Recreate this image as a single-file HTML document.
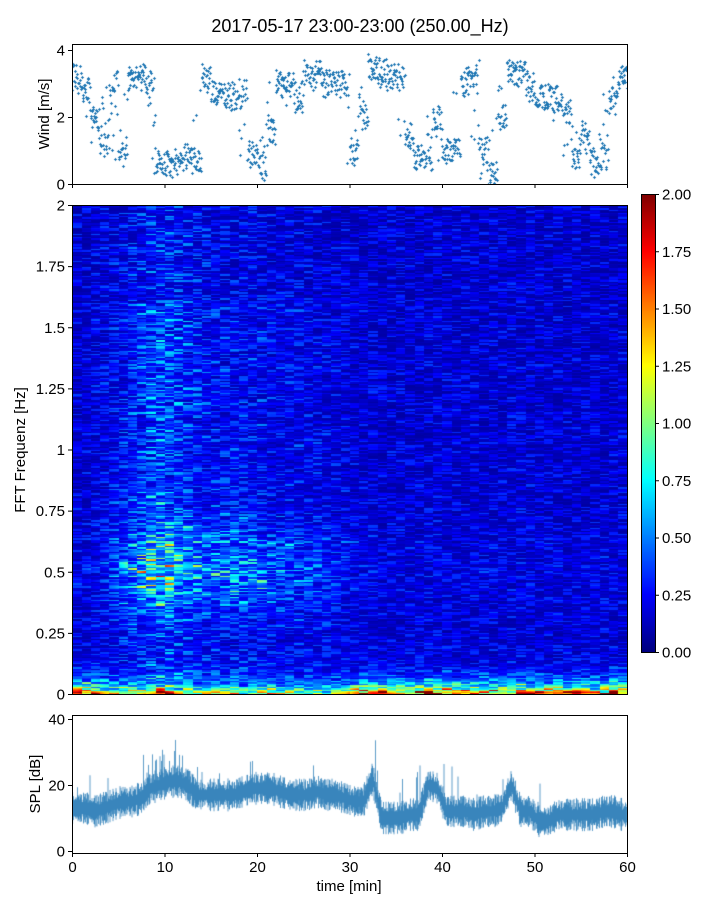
<!DOCTYPE html>
<html><head><meta charset="utf-8">
<style>
body{margin:0;background:#fff;}
#wrap{position:relative;width:720px;height:900px;overflow:hidden;font-family:"Liberation Sans","DejaVu Sans",sans-serif;}
canvas{position:absolute;}
svg{position:absolute;left:0;top:0;}
svg text{font-family:"Liberation Sans","DejaVu Sans",sans-serif;font-size:15px;fill:#000;}
</style></head>
<body>
<div id="wrap">
<canvas id="cw" width="555" height="140" style="left:72px;top:44px"></canvas>
<canvas id="cs" width="555" height="489" style="left:72px;top:205px"></canvas>
<canvas id="cb" width="14" height="458" style="left:641px;top:194px"></canvas>
<canvas id="cp" width="555" height="138" style="left:72px;top:715px"></canvas>
<svg id="ov" width="720" height="900">
<text x="360" y="32" text-anchor="middle" style="font-size:18px">2017-05-17 23:00-23:00 (250.00_Hz)</text>
<text transform="translate(49,114) rotate(-90)" text-anchor="middle">Wind [m/s]</text>
<text transform="translate(25,450) rotate(-90)" text-anchor="middle">FFT Frequenz [Hz]</text>
<text transform="translate(40,784) rotate(-90)" text-anchor="middle">SPL [dB]</text>
<text x="349" y="891" text-anchor="middle">time [min]</text>
</svg>
</div>
<script>
// ---- data ----
const minutes = Array.from({length:60},(_,i)=>i+0.5);
const windValues = [3.2,2.8,2.0,1.2,3.0,0.8,3.2,3.2,3.0,0.7,0.6,0.6,0.8,0.7,3.2,2.7,2.7,2.6,2.8,1.0,
  0.5,1.5,3.0,3.0,2.5,3.3,3.3,3.0,3.0,3.0,0.8,2.0,3.5,3.4,3.2,3.2,1.5,0.8,0.8,2.0,
  1.0,1.0,3.0,3.3,1.0,0.4,2.0,3.3,3.3,3.0,2.6,2.6,2.6,2.2,0.8,1.5,0.6,0.8,2.5,3.2];
const splValues = [13,13,12,13,14,15,15,16,19,20,21,21,20,17,17,17,17,17,18,19,
  19,19,18,17,17,17,18,17,17,16,15,15,22,10,10,10,11,11,20,19,
  12,12,12,11,12,12,13,20,12,12,9,9,11,11,11,11,11,12,12,11];
const bgLevel = [0.2,0.2,0.22,0.22,0.24,0.26,0.28,0.3,0.32,0.34,0.34,0.32,0.3,0.28,0.26,0.25,0.24,0.24,0.24,0.24,
  0.24,0.22,0.22,0.22,0.22,0.22,0.21,0.21,0.2,0.2,0.19,0.19,0.19,0.19,0.19,0.19,0.19,0.19,0.2,0.2,
  0.19,0.19,0.19,0.19,0.19,0.19,0.19,0.2,0.2,0.19,0.19,0.19,0.19,0.19,0.19,0.19,0.19,0.19,0.19,0.19];
const midBand = [0.05,0.05,0.1,0.15,0.2,0.3,0.45,0.6,0.75,0.75,0.65,0.55,0.45,0.4,0.35,0.4,0.4,0.45,0.4,0.4,
  0.35,0.3,0.3,0.35,0.3,0.25,0.25,0.25,0.2,0.15,0.1,0.1,0.1,0.05,0.05,0.05,0.05,0.05,0.05,0.05,
  0.05,0.05,0.05,0.05,0.05,0.05,0.05,0.05,0.05,0.05,0.05,0.05,0.05,0.05,0.05,0.05,0.05,0.05,0.05,0.05];
const lowBand = [1.6,1.9,1.6,1.2,1.0,1.2,1.0,1.0,1.3,1.6,1.2,1.0,1.0,0.9,0.9,1.0,1.0,1.0,0.9,1.2,
  1.3,1.0,0.9,0.9,0.8,0.8,0.8,0.8,0.9,1.0,1.5,1.8,2.0,2.0,1.8,1.6,1.6,1.8,2.0,2.0,
  2.0,1.8,1.8,1.6,1.5,1.6,1.8,2.0,2.0,2.0,1.8,1.6,1.5,1.6,1.8,1.6,1.5,1.8,2.0,1.8];
const windTicks = [0,2,4];
const freqTicks = [0,0.25,0.5,0.75,1,1.25,1.5,1.75,2];
const freqLabels = ["0","0.25","0.5","0.75","1","1.25","1.5","1.75","2"];
const cbTicks = [0,0.25,0.5,0.75,1,1.25,1.5,1.75,2];
const splTicks = [0,20,40];
const timeTicks = [0,10,20,30,40,50,60];

// ---- helpers ----
const X0=72,X1=627;
const xs = t => X0 + (t/60)*(X1-X0);
function interp(arr,t){let p=t-0.5;if(p<=0)return arr[0];if(p>=arr.length-1)return arr[arr.length-1];const i=Math.floor(p),f=p-i;return arr[i]*(1-f)+arr[i+1]*f;}
function hash(a,b){let h=(a*374761393+b*668265263)|0;h=(h^(h>>>13))*1274126177|0;h=h^(h>>>16);return (h>>>0)/4294967296;}
function jet(x){x=Math.max(0,Math.min(1,x));const c=v=>Math.round(255*Math.max(0,Math.min(1,1.5-Math.abs(v))));return [c(4*x-3),c(4*x-2),c(4*x-1)];}
const blue='#1f77b4';

// ---- wind ----
const yW = v => 184 - v*(134/4);
const cw=document.getElementById('cw').getContext('2d');
cw.strokeStyle=blue;cw.lineWidth=1;
for(let m=0;m<60;m++){
  for(let k=0;k<22;k++){
    const t=m+k/22;
    const next=windValues[Math.min(59,m+1)];
    const base = hash(m,k)<0.3 ? windValues[m]+(next-windValues[m])*hash(k,m) : windValues[m];
    const v=base+(hash(k*7,m*3)-0.5)*0.8;
    const px=Math.round(xs(t)-X0)+0.5, py=Math.round(yW(v)-44)+0.5;
    cw.beginPath();cw.moveTo(px-1.5,py);cw.lineTo(px+1.5,py);cw.moveTo(px,py-1.5);cw.lineTo(px,py+1.5);cw.stroke();
  }
}

// ---- spectrogram ----
const cs=document.getElementById('cs').getContext('2d');
const W=555,H=489;const img=cs.createImageData(W,H);
for(let y=0;y<H;y++){
  const f=2*(H-y)/H;
  const row=Math.floor(y/1.5);
  for(let x=0;x<W;x++){
    const t=x/W*60;
    const col=Math.floor(x/9.25);
    const n1=hash(row,col), n2=hash(col*3+1,row*5+2);
    let v=interp(bgLevel,t)*(0.35+1.5*n1*n1);
    v+=interp(midBand,t)*Math.exp(-Math.pow((f-0.5)/0.17,2))*(0.3+1.5*Math.pow(n2,3));
    if(f>0.6&&f<1.6) v+=interp(midBand,t)*0.35*n2*n2;
    v+=interp(lowBand,t)*Math.exp(-f/0.03)*(0.5+0.8*n1);
    v+=0.4*Math.exp(-f/0.08)*n2;
    const c=jet(v/2);const i=(y*W+x)*4;
    img.data[i]=c[0];img.data[i+1]=c[1];img.data[i+2]=c[2];img.data[i+3]=255;
  }
}
cs.putImageData(img,0,0);

// ---- colorbar ----
const cb=document.getElementById('cb').getContext('2d');
for(let y=0;y<458;y++){const c=jet(1-y/457);cb.fillStyle=`rgb(${c[0]},${c[1]},${c[2]})`;cb.fillRect(0,y,14,1);}

// ---- SPL ----
const yP = v => 851 - v*(132/40);
const cp=document.getElementById('cp').getContext('2d');
cp.strokeStyle=blue;cp.globalAlpha=0.9;cp.lineWidth=0.8;
for(let x=0;x<W;x+=0.5){
  const t=x/W*60;const m=interp(splValues,t);
  const k=Math.floor(x*2);
  let w=1.5+3.5*hash(k,11);
  let up=w, dn=w;
  if(t>8&&t<14&&hash(k,5)<0.2) up+=10*hash(k,9);
  if(hash(k,17)<0.02) up+=12*hash(k,19);
  cp.beginPath();cp.moveTo(x,yP(m+up)-715);cp.lineTo(x,yP(m-dn)-715);cp.stroke();
}

// ---- axes overlay ----
const ov=document.getElementById('ov');const NS='http://www.w3.org/2000/svg';
function el(tag,attrs,name,text){const e=document.createElementNS(NS,tag);for(const k in attrs)e.setAttribute(k,attrs[k]);
  
  
  if(text!==undefined)e.textContent=text;ov.appendChild(e);return e;}
function frame(x,y,w,h,name){el('rect',{x:x+0.5,y:y+0.5,width:w,height:h,fill:'none',stroke:'#000','stroke-width':1},name);}
frame(72,44,555,140,'wind-axes-frame');
frame(72,205,555,489,'spectrogram-axes-frame');
frame(641,194,14,458,'colorbar-frame');
frame(72,715,555,138,'spl-axes-frame');
windTicks.forEach(v=>{const y=yW(v)+0.5;el('line',{x1:68,x2:72,y1:y,y2:y,stroke:'#000'},'wind-y-tick');el('text',{x:65,y:y+5,'text-anchor':'end'},'wind-y-tick-label',String(v));});
freqTicks.forEach((v,i)=>{const y=694-v*(489/2)+0.5;el('line',{x1:68,x2:72,y1:y,y2:y,stroke:'#000'},'freq-y-tick');el('text',{x:65,y:y+5,'text-anchor':'end'},'freq-y-tick-label',freqLabels[i]);});
cbTicks.forEach(v=>{const y=652-v*(458/2)+0.5;el('line',{x1:655,x2:659,y1:y,y2:y,stroke:'#000'},'colorbar-tick');el('text',{x:662,y:y+5},'colorbar-tick-label',v.toFixed(2));});
splTicks.forEach(v=>{const y=yP(v)+0.5;el('line',{x1:68,x2:72,y1:y,y2:y,stroke:'#000'},'spl-y-tick');el('text',{x:65,y:y+5,'text-anchor':'end'},'spl-y-tick-label',String(v));});
timeTicks.forEach(v=>{const x=xs(v)+0.5;
  el('line',{x1:x,x2:x,y1:184,y2:188,stroke:'#000'},'wind-x-tick');
  el('line',{x1:x,x2:x,y1:853,y2:857,stroke:'#000'},'time-x-tick');
  el('text',{x:x,y:872,'text-anchor':'middle'},'time-x-tick-label',String(v));});
</script>
</body></html>
